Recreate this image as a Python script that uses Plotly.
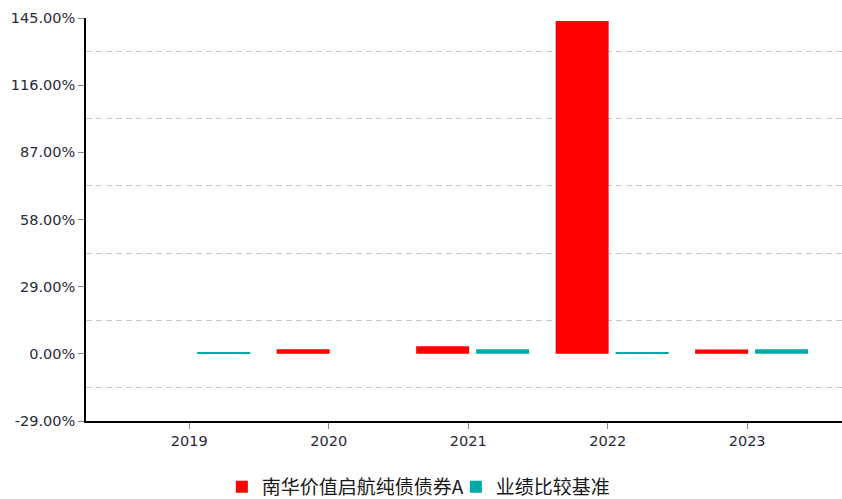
import plotly.graph_objects as go

years = ["2019", "2020", "2021", "2022", "2023"]
fund_name = "南华价值启航纯债债券A"
bench_name = "业绩比较基准"
fund_vals = [None, 2.0, 3.3, 143.7, 1.9]
bench_vals = [0.7, None, 2.0, 0.7, 2.0]
y_ticks = [-29, 0, 29, 58, 87, 116, 145]
y_ticktext = [f"{v:.2f}%" for v in y_ticks]
grid_vals = [-14.5, 14.5, 43.5, 72.5, 101.5, 130.5, 145]

RED = "#FF0000"
TEAL = "#00A8A8"
TICKFONT = dict(family="DejaVu Sans, Verdana, sans-serif", size=14.5, color="#2a2a3a")

fig = go.Figure()
fig.add_trace(go.Bar(x=years, y=fund_vals, name=fund_name, marker=dict(color=RED, line_width=0),
                     width=0.38, offset=-0.373))
fig.add_trace(go.Bar(x=years, y=bench_vals, name=bench_name, marker=dict(color=TEAL, line_width=0),
                     width=0.38, offset=0.057))
# invisible helper trace to hold the dashed-grid axis
fig.add_trace(go.Scatter(x=[years[0]], y=[None], yaxis="y2", showlegend=False, hoverinfo="skip"))

fig.update_layout(
    width=842, height=499,
    margin=dict(l=86, r=0, t=18, b=78, autoexpand=False),
    paper_bgcolor="white", plot_bgcolor="white",
    barmode="overlay",
    showlegend=True,
    legend=dict(orientation="h", x=0.1797, xanchor="left", yref="container", y=0.024, yanchor="middle",
                font=dict(family="Noto Sans CJK SC, sans-serif", size=19, color="#1a1a1a"),
                itemclick=False, tracegroupgap=0, itemwidth=30,
                entrywidth=189, entrywidthmode="pixels"),
    xaxis=dict(type="category", range=[-0.74, 4.68], showgrid=False, zeroline=False,
               showline=True, linecolor="#000000", linewidth=1.5,
               ticks="outside", ticklen=6, tickcolor="#888888", tickwidth=1,
               tickfont=TICKFONT),
    yaxis=dict(range=[-29, 145], tickvals=y_ticks, ticktext=y_ticktext, showgrid=False,
               zeroline=False, showline=True, linecolor="#000000", linewidth=1.5,
               ticks="outside", ticklen=6, tickcolor="#888888", tickwidth=1,
               tickfont=TICKFONT),
    yaxis2=dict(range=[-29, 145], overlaying="y", side="right", tickvals=grid_vals,
                showticklabels=False, ticks="", showgrid=True, gridcolor="#c8c8c8",
                griddash="6px,4px", gridwidth=1, zeroline=False, showline=False),
)

fig.write_html("out.html", config={"displayModeBar": False},
               post_script="document.body.style.margin='0';document.body.style.overflow='hidden';")
